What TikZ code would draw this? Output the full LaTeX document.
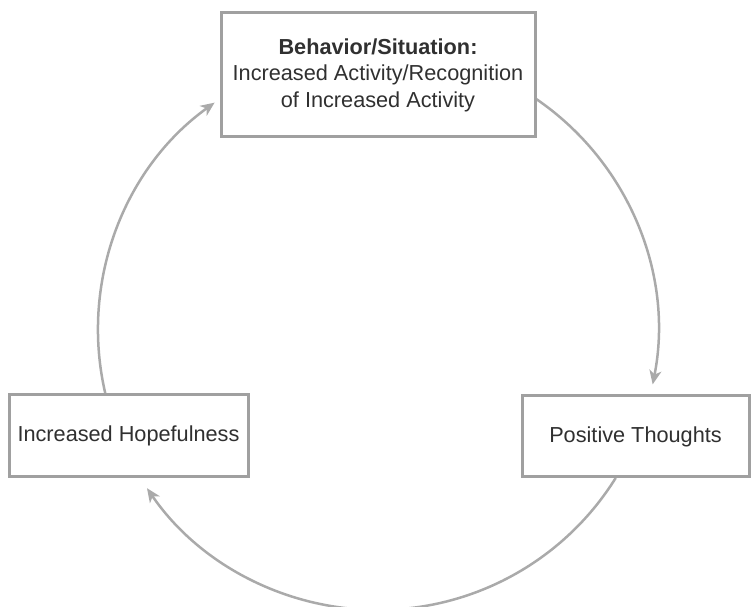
\documentclass[tikz,border=0pt]{standalone}
\usepackage{fontspec}
\setmainfont{Liberation Sans}
\usetikzlibrary{arrows.meta}
\definecolor{boxgray}{HTML}{A0A0A0}
\definecolor{linegray}{HTML}{AAAAAA}
\definecolor{textgray}{HTML}{303030}
\begin{document}
\begin{tikzpicture}[x=1pt,y=1pt,
  stagebox/.style={draw=boxgray, line width=3pt, fill=white, inner sep=0pt,
    align=center, text=textgray, font=\fontsize{21.7}{26.5}\selectfont},
  conn/.style={draw=linegray, line width=2.5pt,
    -{Stealth[length=14pt,width=12pt,inset=4pt]}}]
\useasboundingbox (0,0) rectangle (752,607);
\clip (0,0) rectangle (752,607);
\coordinate (ctr) at (378,277);
\coordinate (s1) at ([shift={(55.6:280)}]ctr);
\coordinate (s2) at ([shift={(-31.9:280)}]ctr);
\coordinate (s3) at ([shift={(193.4:280)}]ctr);
\draw[conn] (s1) arc[start angle=55.6, end angle=-11.2, radius=280];
\draw[conn] (s2) arc[start angle=-31.9, end angle=-145.6, radius=280];
\draw[conn] (s3) arc[start angle=193.4, end angle=125.7, radius=280];
\node[stagebox, minimum width=314pt, minimum height=124pt] (top) at (378,532)
  {\textbf{Behavior/Situation:}\\Increased Activity/Recognition\\of Increased Activity};
\node[stagebox, minimum width=239pt, minimum height=82pt] (hope) at (128.5,171)
  {Increased Hopefulness};
\node[stagebox, minimum width=227pt, minimum height=81pt] (pos) at (635.5,170.5)
  {Positive Thoughts};
\end{tikzpicture}
\end{document}
